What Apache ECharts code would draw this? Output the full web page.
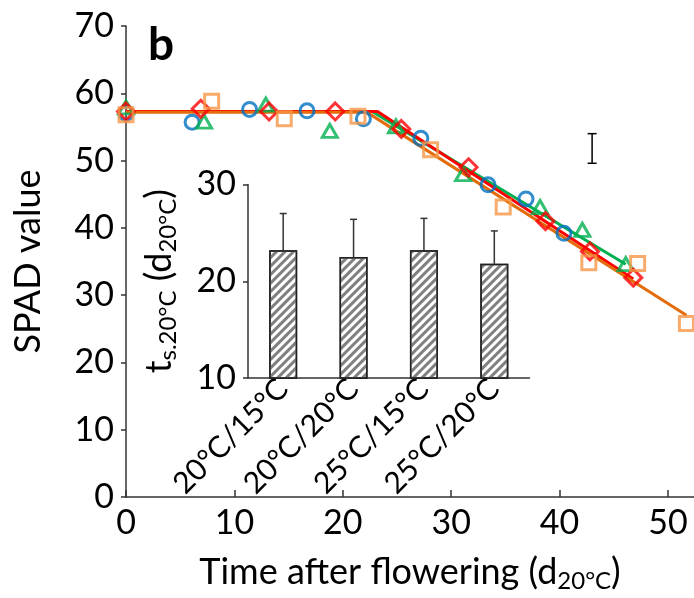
<!DOCTYPE html>
<html>
<head>
<meta charset="utf-8">
<script src="https://cdn.jsdelivr.net/npm/echarts@6/dist/echarts.min.js"></script>
<style>
html, body { margin: 0; padding: 0; background: #fff; }
#chart { width: 694px; height: 598px; }
</style>
</head>
<body>
<div id="chart"></div>
<script>
// measured points (time d20°C, SPAD)
var blueX = [0, 6.1, 11.4, 16.7, 21.9, 27.2, 33.4, 36.9, 40.4];
var blueY = [57.0, 55.7, 57.6, 57.4, 56.2, 53.3, 46.4, 44.3, 39.2];
var greenX = [0, 7.2, 12.9, 18.8, 24.9, 31.1, 38.2, 42.1, 46.1];
var greenY = [57.9, 55.8, 58.3, 54.4, 55.1, 48.0, 43.1, 39.7, 34.6];
var redX = [0, 6.9, 13.2, 19.3, 25.4, 31.6, 38.7, 42.8, 46.8];
var redY = [57.3, 57.7, 57.3, 57.3, 54.7, 49.0, 41.0, 36.5, 32.6];
var orangeX = [0, 7.9, 14.6, 21.4, 28.1, 34.8, 42.7, 47.2, 51.7];
var orangeY = [56.8, 58.8, 56.2, 56.6, 51.6, 43.1, 34.8, 34.7, 25.8];

// fitted broken-stick lines: start, breakpoint, end
var greenFit = [[0, 57.3], [22.7, 57.3], [46.1, 34.6]];
var redFit = [[0, 57.3], [23.2, 57.3], [46.8, 32.4]];
var orangeFit = [[0, 57.2], [22.2, 57.2], [51.7, 27.0]];

// representative error bar
var lsdX = 43.0;
var lsdLow = 49.6;
var lsdHigh = 54.0;

// inset
var insetCats = ['20°C/15°C', '20°C/20°C', '25°C/15°C', '25°C/20°C'];
var insetVals = [23.2, 22.5, 23.2, 21.8];
var insetErrTop = [27.0, 26.4, 26.5, 25.2];

var xTicks = [0, 10, 20, 30, 40, 50];

function pairs(xs, ys) {
    var out = [];
    for (var i = 0; i < xs.length; i++) {
        out.push([xs[i], ys[i]]);
    }
    return out;
}

var font = 'Lato';
var axisCol = '#333';

var dom = document.getElementById('chart');
var chart = echarts.init(dom, null, { renderer: 'canvas' });

function hollow(name, xs, ys, symbol, size, col) {
    return {
        name: name,
        type: 'scatter',
        data: pairs(xs, ys),
        symbol: symbol,
        symbolSize: size,
        z: 4,
        itemStyle: {
            color: 'rgba(0,0,0,0)',
            borderColor: col,
            borderWidth: 3
        }
    };
}

function fitLine(data, col, z) {
    return {
        type: 'line',
        data: data,
        symbol: 'none',
        z: z,
        lineStyle: { color: col, width: 3 }
    };
}

var option = {
    backgroundColor: '#fff',
    animation: false,
    textStyle: { fontFamily: font },
    grid: [
        { left: 126, top: 26, width: 568, height: 476.5 },
        { left: 248, top: 184.5, width: 281.5, height: 193.5 }
    ],
    xAxis: [
        {
            type: 'value',
            min: 0,
            max: 52.4,
            interval: 10,
            splitLine: { show: false },
            axisLine: { lineStyle: { color: axisCol, width: 1.5 } },
            axisTick: { inside: true, length: 7, lineStyle: { color: axisCol, width: 1.5 } },
            axisLabel: {
                color: '#000',
                fontSize: 34,
                fontFamily: font,
                margin: 9,
                showMaxLabel: false,
                formatter: function (v) {
                    return xTicks.indexOf(v) >= 0 ? String(v) : '';
                }
            },
            name: '{a|Time after flowering (d}{s|20°C}{a|)}',
            nameLocation: 'middle',
            nameGap: 54,
            nameTextStyle: {
                rich: {
                    a: { fontSize: 36, fontFamily: font, color: '#000', lineHeight: 42 },
                    s: { fontSize: 24, fontFamily: font, color: '#000', lineHeight: 24, padding: [12, 0, 0, 0], verticalAlign: 'bottom' }
                }
            }
        },
        {
            type: 'category',
            gridIndex: 1,
            data: insetCats,
            axisLine: { lineStyle: { color: axisCol, width: 1.5 } },
            axisTick: { length: 5, lineStyle: { color: axisCol, width: 1.5 } },
            axisLabel: {
                color: '#000',
                fontSize: 30,
                fontFamily: font,
                rotate: 45,
                interval: 0,
                margin: 6
            }
        }
    ],
    yAxis: [
        {
            type: 'value',
            min: 0,
            max: 70,
            interval: 10,
            splitLine: { show: false },
            axisLine: { show: true, lineStyle: { color: axisCol, width: 1.5 } },
            axisTick: { show: true, length: 5, lineStyle: { color: axisCol, width: 1.5 } },
            axisLabel: { color: '#000', fontSize: 34, fontFamily: font, margin: 12 },
            name: 'SPAD value',
            nameLocation: 'middle',
            nameGap: 80,
            nameTextStyle: { fontSize: 36, fontFamily: font, color: '#000' }
        },
        {
            type: 'value',
            gridIndex: 1,
            min: 10,
            max: 30,
            interval: 10,
            splitLine: { show: false },
            axisLine: { show: true, lineStyle: { color: axisCol, width: 1.5 } },
            axisTick: { show: true, length: 5, lineStyle: { color: axisCol, width: 1.5 } },
            axisLabel: { color: '#000', fontSize: 34, fontFamily: font, margin: 12 },
            name: '{a|t}{s|s.20°C}{a| (d}{s|20°C}{a|)}',
            nameLocation: 'middle',
            nameGap: 68,
            nameTextStyle: {
                rich: {
                    a: { fontSize: 36, fontFamily: font, color: '#000', lineHeight: 42 },
                    s: { fontSize: 24, fontFamily: font, color: '#000', lineHeight: 24, padding: [12, 0, 0, 0], verticalAlign: 'bottom' }
                }
            }
        }
    ],
    graphic: [
        {
            type: 'text',
            left: 148,
            top: 22,
            style: { text: 'b', font: 'bold 46px ' + font, fill: '#000' }
        }
    ],
    series: [
        fitLine(greenFit, '#00B050', 2),
        fitLine(redFit, '#FF0000', 2),
        fitLine(orangeFit, '#E46C0A', 2),
        hollow('blue', blueX, blueY, 'circle', 14, '#0070C0'),
        hollow('green', greenX, greenY, 'triangle', [15, 13], '#00B050'),
        hollow('red', redX, redY, 'diamond', 17, '#FF0000'),
        hollow('orange', orangeX, orangeY, 'rect', 14, '#F79646'),
        {
            type: 'custom',
            z: 5,
            data: [[lsdX, lsdLow, lsdHigh]],
            renderItem: function (params, api) {
                var lo = api.coord([api.value(0), api.value(1)]);
                var hi = api.coord([api.value(0), api.value(2)]);
                var w = 4.5;
                var st = { stroke: '#000', lineWidth: 1.5 };
                return {
                    type: 'group',
                    children: [
                        { type: 'line', shape: { x1: lo[0], y1: lo[1], x2: hi[0], y2: hi[1] }, style: st },
                        { type: 'line', shape: { x1: lo[0] - w, y1: lo[1], x2: lo[0] + w, y2: lo[1] }, style: st },
                        { type: 'line', shape: { x1: hi[0] - w, y1: hi[1], x2: hi[0] + w, y2: hi[1] }, style: st }
                    ]
                };
            }
        },
        {
            type: 'bar',
            xAxisIndex: 1,
            yAxisIndex: 1,
            data: insetVals,
            barWidth: 28,
            z: 1,
            itemStyle: {
                color: '#fff',
                borderColor: '#222',
                borderWidth: 1.5,
                decal: {
                    symbol: 'rect',
                    symbolSize: 1,
                    dashArrayX: [1, 0],
                    dashArrayY: [3, 3],
                    rotation: -Math.PI / 4,
                    color: '#808080'
                }
            }
        },
        {
            type: 'custom',
            xAxisIndex: 1,
            yAxisIndex: 1,
            z: 1,
            data: insetVals.map(function (v, i) { return [i, v, insetErrTop[i]]; }),
            renderItem: function (params, api) {
                var lo = api.coord([api.value(0), api.value(1)]);
                var hi = api.coord([api.value(0), api.value(2)]);
                var st = { stroke: '#333', lineWidth: 1.5 };
                return {
                    type: 'group',
                    children: [
                        { type: 'line', shape: { x1: lo[0], y1: lo[1], x2: hi[0], y2: hi[1] }, style: st },
                        { type: 'line', shape: { x1: hi[0] - 3.5, y1: hi[1], x2: hi[0] + 3.5, y2: hi[1] }, style: st }
                    ]
                };
            }
        }
    ]
};

chart.setOption(option);
window.addEventListener('resize', function () {
    chart.resize();
});
</script>
</body>
</html>
